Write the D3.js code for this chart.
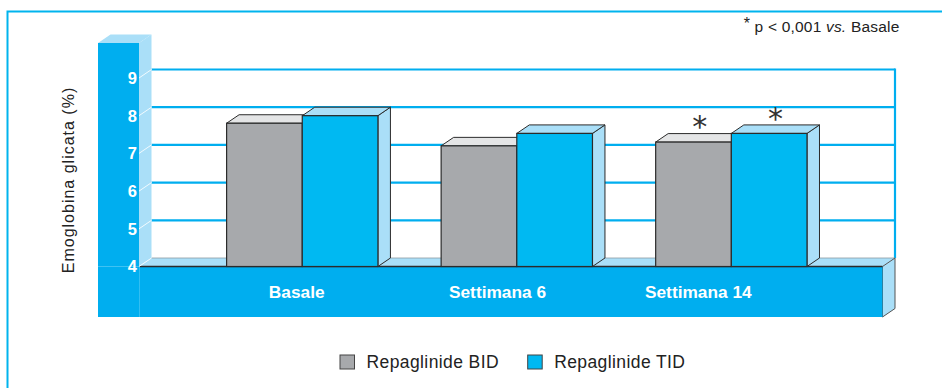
<!DOCTYPE html>
<html><head><meta charset="utf-8">
<script src="https://cdn.jsdelivr.net/npm/d3@7"></script>
<style>
html,body{margin:0;padding:0;background:#fff;}
svg{display:block;font-family:"Liberation Sans",Arial,Helvetica,sans-serif;}
</style></head>
<body><svg id="c" width="942" height="388"></svg>
<script>
const categories = ["Basale", "Settimana 6", "Settimana 14"];
const seriesNames = ["Repaglinide BID", "Repaglinide TID"];
const bidValues = [7.8, 7.2, 7.3];
const tidValues = [8.0, 7.53, 7.53];
const significant = [false, false, true];
const yTicks = [4, 5, 6, 7, 8, 9];
const noteText = "p < 0,001 ";

const svg = d3.select("#c");
const DX = 12.5, DY = 8.5;
const DARK = "#00AEEF", BAR = "#00B9F2", LIGHT = "#AADFF8", GRAY = "#A7A9AC", GRAYTOP = "#E4E5E6", EDGE = "#2b2b2b";
const colLeft = 98, colRight = 139, colTop = 43, slabBottom = 317, floorRight = 882.5;

const y = d3.scaleLinear().domain([4, 9]).range([266.5, 78]);
const x0 = d3.scaleBand().domain(categories).range([195, 838.6]).paddingInner(0.2946).paddingOuter(0.1473);
const x1 = d3.scaleBand().domain(seriesNames).range([0, x0.bandwidth()]);
const xl = d3.scalePoint().domain(categories).range([296.7, 698.3]);

// frame
svg.append("path").attr("d", "M7.5,388V11.5H942").attr("fill", "none").attr("stroke", "#00B4EE").attr("stroke-width", 2);

const y0 = y(4);
// back wall gridlines
const grid = svg.append("g");
grid.selectAll("line").data(yTicks.filter(d => d > 4)).join("line")
  .attr("x1", colRight + DX).attr("x2", floorRight + DX)
  .attr("y1", d => y(d) - DY).attr("y2", d => y(d) - DY)
  .attr("stroke", DARK).attr("stroke-width", 2.2);
grid.append("line").attr("x1", floorRight + DX).attr("x2", floorRight + DX)
  .attr("y1", y(9) - DY - 1).attr("y2", y0 - DY)
  .attr("stroke", DARK).attr("stroke-width", 2.2);

// floor top
svg.append("path")
  .attr("d", `M${colRight},${y0}L${floorRight},${y0}L${floorRight + DX},${y0 - DY}L${colRight + DX},${y0 - DY}Z`)
  .attr("fill", LIGHT);
svg.append("line").attr("x1", colRight + DX).attr("x2", floorRight + DX).attr("y1", y0 - DY).attr("y2", y0 - DY)
  .attr("stroke", "#8a9aa2").attr("stroke-width", 0.8);
// slab right face
svg.append("path")
  .attr("d", `M${floorRight},${y0}L${floorRight + DX},${y0 - DY}L${floorRight + DX},${slabBottom - DY}L${floorRight},${slabBottom}Z`)
  .attr("fill", LIGHT).attr("stroke", "#555").attr("stroke-width", 1);
// slab front
svg.append("rect").attr("x", colLeft).attr("y", y0).attr("width", floorRight - colLeft).attr("height", slabBottom - y0).attr("fill", DARK);
svg.append("line").attr("x1", colRight).attr("x2", floorRight).attr("y1", y0).attr("y2", y0).attr("stroke", EDGE).attr("stroke-width", 1.4);
svg.append("line").attr("x1", colRight + 0.5).attr("x2", colRight + 0.5).attr("y1", y0).attr("y2", slabBottom).attr("stroke", "#3fc2f3").attr("stroke-width", 0.8);

// y column
svg.append("path")
  .attr("d", `M${colRight},${colTop}L${colRight + DX},${colTop - DY}L${colRight + DX},${y0 - DY}L${colRight},${y0}Z`)
  .attr("fill", LIGHT);
svg.append("path")
  .attr("d", `M${colLeft},${colTop}L${colLeft + DX},${colTop - DY}L${colRight + DX},${colTop - DY}L${colRight},${colTop}Z`)
  .attr("fill", LIGHT);
svg.append("rect").attr("x", colLeft).attr("y", colTop).attr("width", colRight - colLeft).attr("height", y0 - colTop).attr("fill", DARK);
// tick connectors
svg.append("g").selectAll("line").data(yTicks).join("line")
  .attr("x1", colRight).attr("x2", colRight + DX)
  .attr("y1", d => y(d)).attr("y2", d => y(d) - DY)
  .attr("stroke", "#f2fbff").attr("stroke-width", 1);
// tick labels
svg.append("g").selectAll("text").data(yTicks).join("text")
  .attr("x", colRight - 2).attr("y", d => y(d)).attr("dy", "0.36em")
  .attr("text-anchor", "end").attr("fill", "#fff").attr("font-weight", "bold").attr("font-size", 16.5)
  .text(d => d);

// bars
function bar(g, x, w, v, front, light) {
  const yt = y(v);
  g.append("path").attr("d", `M${x + w},${yt}L${x + w + DX},${yt - DY}L${x + w + DX},${y0 - DY}L${x + w},${y0}Z`)
    .attr("fill", light).attr("stroke", EDGE).attr("stroke-width", 1).attr("stroke-linejoin", "round");
  g.append("path").attr("d", `M${x},${yt}L${x + DX},${yt - DY}L${x + w + DX},${yt - DY}L${x + w},${yt}Z`)
    .attr("fill", light).attr("stroke", EDGE).attr("stroke-width", 1).attr("stroke-linejoin", "round");
  g.append("rect").attr("x", x).attr("y", yt).attr("width", w).attr("height", y0 - yt)
    .attr("fill", front).attr("stroke", EDGE).attr("stroke-width", 1.2);
}
const bars = svg.append("g");
categories.forEach((c, i) => {
  const g = bars.append("g");
  bar(g, x0(c) + x1(seriesNames[0]), x1.bandwidth(), bidValues[i], GRAY, GRAYTOP);
  bar(g, x0(c) + x1(seriesNames[1]), x1.bandwidth(), tidValues[i], BAR, LIGHT);
  if (significant[i]) {
    [bidValues[i], tidValues[i]].forEach((v, k) => {
      g.append("text")
        .attr("x", x0(c) + x1(seriesNames[k]) + x1.bandwidth() / 2 + DX / 2)
        .attr("y", y(v) - DY - 9)
        .attr("text-anchor", "middle").attr("font-family", "DejaVu Sans").attr("font-size", 30).attr("fill", "#333")
        .attr("dy", "0.42em")
        .text("*");
    });
  }
});

// category labels
svg.append("g").selectAll("text").data(categories).join("text")
  .attr("x", d => xl(d)).attr("y", 298)
  .attr("text-anchor", "middle").attr("fill", "#fff").attr("font-weight", "bold").attr("font-size", 17.3)
  .text(d => d);

// y title
svg.append("text").attr("transform", "translate(73.5,180) rotate(-90)")
  .attr("text-anchor", "middle").attr("font-size", 16).attr("letter-spacing", 1).attr("fill", "#222")
  .text("Emoglobina glicata (%)");

// note
const note = svg.append("text").attr("x", 899.5).attr("y", 31.5).attr("text-anchor", "end").attr("font-size", 15.5).attr("letter-spacing", 0.2).attr("fill", "#222");
note.append("tspan").attr("font-size", 16).attr("dy", -3).text("*");
note.append("tspan").attr("dy", 3).text(" " + noteText);
note.append("tspan").attr("font-style", "italic").text("vs.");
note.append("tspan").text(" " + categories[0]);

// legend
const legColors = [GRAY, BAR];
const legX = [340, 527.7];
const leg = svg.append("g");
seriesNames.forEach((s, i) => {
  leg.append("rect").attr("x", legX[i]).attr("y", 355).attr("width", 14.5).attr("height", 14)
    .attr("fill", legColors[i]).attr("stroke", "#444").attr("stroke-width", 1);
  leg.append("text").attr("x", legX[i] + 26.5).attr("y", 368).attr("font-size", 17.5).attr("letter-spacing", 0.4)
    .attr("fill", "#222").text(s);
});
</script></body></html>
